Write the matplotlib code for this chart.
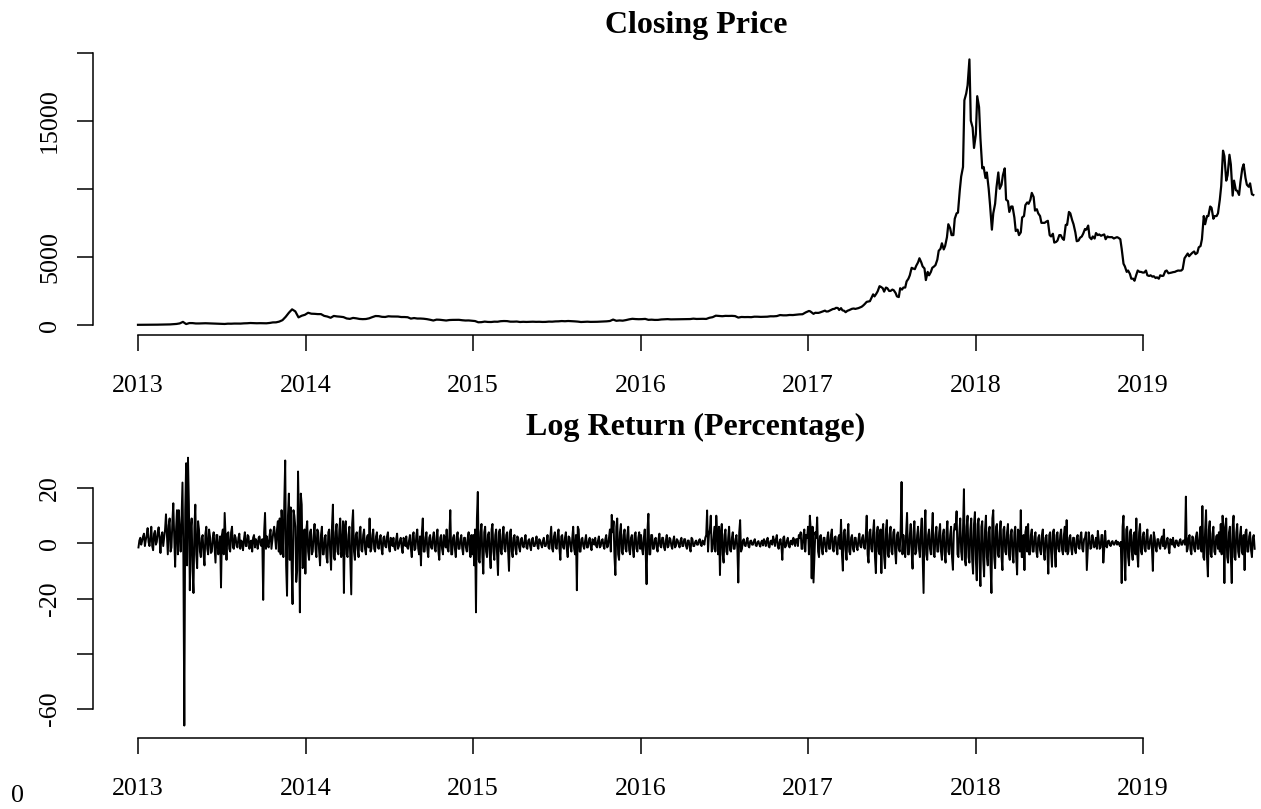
import numpy as np
import matplotlib
matplotlib.use("Agg")
import matplotlib.pyplot as plt

plt.rcParams['font.family'] = ['Liberation Serif', 'DejaVu Serif']

# ---------------- data: weekly closing price (USD), from 2013-01-01, every 7 days ----------------
price_2013 = [13.3, 13.9, 14.2, 17.0, 19.6, 20.6, 24.8, 29.5, 31.0, 40.0, 44.0, 59.0, 78.0, 118, 230, 68,
              142, 139, 113, 113, 122, 129, 121, 108, 108, 103, 88, 76, 98, 95, 106, 107, 104, 122, 129,
              146, 136, 128, 134, 126, 125, 150, 190, 195, 250, 355, 600, 900, 1150, 1000, 560, 680, 750]
price_2014 = [900, 830, 820, 800, 800, 670, 620, 530, 665, 630, 610, 580, 480, 450, 520, 490, 445, 430,
              440, 490, 580, 660, 650, 600, 590, 640, 625, 620, 620, 585, 585, 570, 470, 510, 475, 475,
              460, 430, 385, 330, 395, 385, 355, 330, 365, 375, 375, 380, 350, 330, 335, 315]
price_2015 = [290, 200, 210, 250, 225, 220, 245, 240, 280, 292, 285, 245, 245, 255, 220, 235, 225, 235,
              242, 232, 237, 225, 229, 250, 244, 264, 270, 290, 277, 294, 285, 268, 250, 220, 228, 243,
              229, 230, 236, 246, 250, 270, 294, 400, 310, 335, 318, 360, 415, 455, 435, 425]
price_2016 = [432, 448, 380, 392, 373, 376, 407, 420, 432, 412, 416, 412, 416, 422, 425, 436, 466, 444,
              450, 454, 445, 530, 575, 685, 665, 645, 670, 665, 672, 655, 545, 590, 580, 585, 575, 610,
              608, 596, 605, 610, 640, 637, 655, 730, 710, 710, 737, 730, 758, 780, 790, 925]
price_2017 = [1030, 900, 900, 890, 970, 1055, 1000, 1120, 1190, 1250, 1240, 1040, 1045, 1140, 1210, 1210,
              1300, 1450, 1700, 1750, 2250, 2300, 2850, 2700, 2750, 2500, 2600, 2350, 2050, 2600, 2750,
              3400, 4200, 4100, 4600, 4600, 4150, 3900, 3900, 4300, 4800, 5600, 5550, 6450, 7100, 6600,
              8200, 9900, 11600, 17000, 19500, 14500]
price_2018 = [14000, 16000, 11500, 10800, 10000, 7000, 8900, 11200, 10300, 11500, 9100, 8700, 7900, 7000,
              6800, 8000, 9000, 9200, 9400, 8500, 8000, 7500, 7600, 6600, 6700, 6100, 6600, 6350, 7350,
              8300, 7700, 6800, 6200, 6500, 7050, 7300, 6300, 6350, 6600, 6550, 6650, 6500, 6450, 6350,
              6450, 6300, 4500, 3900, 3750, 3400, 3700, 3900]
price_2019 = [3850, 4000, 3600, 3550, 3450, 3400, 3600, 3950, 3800, 3850, 3900, 4000, 4000, 4900, 5250,
              5200, 5400, 5300, 5800, 8000, 8000, 8700, 7800, 8000, 9200, 12800, 10600, 12500, 9500,
              9900, 9550, 11500, 10800, 10150, 9600]
# mid-week readings (3 days after each weekly reading) for the volatile 2017-2019 stretch
price_mid_2017 = [1000, 820, 890, 920, 1010, 990, 1050, 1170, 1260, 1100, 1080, 940, 1080, 1190, 1180, 1240,
                  1340, 1550, 1720, 1970, 2100, 2480, 2800, 2450, 2700, 2500, 2550, 2100, 2700, 2750, 3200,
                  3650, 4150, 4350, 4900, 4300, 3300, 3650, 4200, 4400, 5450, 6000, 5800, 7400, 6600, 7800,
                  8250, 10900, 16500, 17600, 15000, 13000]
price_mid_2018 = [16800, 13700, 11600, 11200, 8800, 8200, 10100, 10000, 11000, 9200, 8300, 8700, 6900, 6600,
                  7900, 8800, 8900, 9700, 8400, 8200, 7500, 7500, 7650, 6500, 6050, 6200, 6600, 6250, 7350,
                  8200, 7400, 6150, 6400, 6700, 7000, 6450, 6500, 6750, 6650, 6600, 6300, 6450, 6450, 6400,
                  6400, 5600, 4300, 4000, 3400, 3250, 4000, 3900]
price_mid_2019 = [3850, 3650, 3650, 3580, 3500, 3650, 3620, 4000, 3820, 3880, 3950, 3990, 4100, 5050, 5050,
                  5300, 5200, 5700, 6300, 7400, 8000, 8600, 8000, 8200, 10200, 12400, 11000, 11800, 10600,
                  9850, 10500, 11800, 10300, 10400, 9550]

# ---------------- data: daily log return (%), readings every 4 days from 2013-01-02 ----------------
ret_2013 = [-1.5, 2.0, 0.8, 3.5, 1.2, 5.5, -1.0,
            6.0, -2.5, 4.5, 0.5, 5.8, -3.5, 4.0, 2.0,
            10.5, -4.0, 9.0, -1.5, 14.5, -8.5, 12.0,
            12.0, -3.0, 22.0, -66.0, 29.0, 31.0, -17.0, 9.0, -18.0, 14.0, -9.0, 5.0,
            -5.0, 3.0, -8.0, 6.0, -4.0, 2.5, -3.0, 4.0, -7.0, 3.0, -2.0,
            -16.0, 5.0, 11.0, -6.0, 4.0, -3.0, 6.0, -2.0,
            2.0, -1.5, 3.5, 1.0, -2.5, 4.0, -1.0, 2.5, 0.5, -3.0, 3.0, 1.5, -2.0, 2.5, -1.0,
            -20.5, 11.0,
            2.5, -1.5, 5.0, 1.0, 6.0, -2.0, 8.0,
            9.0, 12.0, -5.0, 30.0, -19.0, 18.0, 13.0, -22.0, 10.0, -14.0, 26.0, -25.0, 14.0, -8.0]
ret_2014 = [-11.0, 8.0, -6.0, 5.0, -3.0, 7.0, -5.0, 4.0, -8.0, 6.0, -4.0, 3.0, -7.0, 5.0, -9.6, 14.0,
            -6.0, 7.0, -4.0, 9.0, -3.0, -18.0, 8.0, -5.0, 6.0, -18.5,
            12.0, -6.0, 4.0, -5.0, 6.0, -3.0, 5.0, -4.0, 3.0, 9.0, -2.0, 5.0, -3.0, 4.0,
            -2.0, 3.0, -4.0, 2.5, -1.5, 4.0, -3.0, 1.5, 2.0, -2.5, 3.5, -1.0, 2.0, -3.5, 1.0, 2.5, -2.0,
            3.0, -5.0, 4.0, -2.0, 5.0, -4.0, -8.0, 9.0, -3.0, 4.0, -5.0, 3.0, -2.0,
            4.0, -3.0, 5.0, -6.0, 3.0, -4.0, 2.0, 5.0, -3.0, 12.0, -4.0, 3.0, -5.0, 4.0, -2.0, 3.0,
            -4.0, 2.0, -3.0, 4.0, -5.0]
ret_2015 = [-4.0, -8.0, -25.0, 18.6, -7.0, 7.0, -11.0, 6.0, -5.0, 4.0, -9.0, 7.0, -6.0, 5.0, -11.5,
            5.0, -4.0, 6.0, -3.0, 4.0, -10.0, 5.0, -5.0, 3.0, -4.0, 2.0,
            -3.0, 2.0, -1.5, 3.0, -2.0, 1.5, -2.5, 2.0, -1.0, 2.5, -2.0, 1.0, -1.5, 2.0, -1.0,
            3.0, -2.0, 6.0, -3.0, 4.0, -2.0, 5.0, -6.0, 3.0, -2.0, 4.0, -5.0, 2.0, -3.0, 6.0, -4.0,
            -17.0, 5.0,
            -3.0, 2.0, -2.0, 3.0, -1.5, 2.0, -2.5, 1.0, 2.0, -1.5, 2.5, -1.0, 1.5, -2.0, 3.0, -1.0,
            5.0, 10.3, 8.0, -11.5, 9.0, -6.0, 7.0, -4.0, 5.0, -3.0, 6.0, -4.0, 3.0, -5.0, 4.0,
            -3.0, 4.0]
ret_2016 = [3.0, -4.0, 5.0, -14.8, 10.7, -4.0, 3.0, -2.0,
            2.0, -3.0, 3.5, -1.5, 2.0, -2.5, 3.0, -1.0, 1.5, -2.0, 2.5, -1.0, 1.0, -1.5, 2.0, -1.0,
            1.5, -2.0, 1.0, -3.0, 1.5,
            -1.0, 1.0, -0.5, 1.5, -1.0, 0.5, 2.0, 11.9, 3.0, 10.0, -2.0,
            6.0, 10.0, -4.0, -11.5, 7.0, -7.0, 5.0, -4.0, 6.0, -3.0, 4.0,
            -2.0, 3.0, -14.2, 8.4,
            -2.0, 1.5, -1.0, 2.0, -1.5, 1.0, -0.5, 1.5, -1.0, 0.8, -1.2, 1.0, 1.5, -1.0, 2.0, -1.5,
            1.0, 2.5, -1.0, 3.0, -2.0, 1.5, -6.0, 2.5, -1.0, 2.0, -1.5, 1.0, 2.0, -1.0, 1.5, 3.0,
            4.0, -2.0, 5.0, 3.0]
ret_2017 = [6.0, 10.0, -12.7, -14.2, 4.0, 9.4, -5.0, 3.0, -4.0, 2.0, -3.0, 4.0, -2.0, 5.0, -3.0, 2.5,
            -4.0, 3.0, 8.5, -9.9,
            5.0, -6.0, 7.0, -4.0, 3.0, -3.0, 2.0, -2.5, 3.5, -1.5, 3.0, -2.0, 10.0, -7.0, 5.0, -3.0,
            8.4, -10.8, 6.0, -4.0,
            -10.8, 7.0, -9.0, 8.4, -5.0, 6.0, -4.0, 5.0, -7.3, 4.0, -3.0,
            22.2,
            3.0, -5.0, 11.0, -4.0, 7.0, -9.2, 8.0, -3.0, 6.0, -5.0, 9.0,
            -18.0, 12.0,
            -6.0, 5.0, -4.0, 11.0, -5.0, 6.0, -3.0, 7.0, -6.0, 5.0, -7.0, 8.0, -4.0, 6.0, -9.6, 7.0,
            11.6, -5.0, 9.0, -6.0,
            19.6, -8.0, 10.0, -7.0, 9.0, -11.0]
ret_2018 = [11.3, -13.4, 9.0, -15.5, 8.0, -12.0, 10.0, -8.0, 6.0, -18.0, 12.0, -9.0,
            7.0, -5.0, 8.0, -9.7, 6.0, -4.0, 7.0, -6.0, 5.0, -7.0, 6.0, -11.3, 4.0, 12.0,
            -5.0, -9.7, 6.0, 7.0, -4.0, 5.0, -3.0, 4.0, -5.0, 3.0, -4.0, 5.0, -6.0, 3.0, -11.0,
            4.0, -8.5, 5.0, -8.5, 4.0, -3.0, 5.0, -4.0, 6.0, 8.4, -3.0,
            3.0, -4.0, 2.0, -3.6, 3.0, -2.0, 4.0, -3.0, 2.0, -9.7, 4.0, -2.0, 3.0, -1.5, 2.0, 4.5,
            -2.0, 3.0, -7.0, 4.5, -1.5, 1.0, -1.0, 0.8, -0.5, 1.0,
            0.5, -1.0,
            -14.4, 10.0, -13.4, 6.0, -8.0, 5.0, -6.0, 4.0, 9.0, -8.5, 7.0, -4.0]
ret_2019 = [4.0, -3.0, 5.0, -2.0, 3.0, -10.0, 2.0, -3.0, 1.5, -2.0, 2.5, 5.0, -1.5, 2.0, -3.6, 1.0,
            2.0, -1.5, 1.0, -1.0, 1.5, -0.5,
            1.0, 16.9,
            -2.0, 3.0, -4.0, 2.0, -3.0, 4.0, -2.0, 6.0, 13.5, -6.0, 12.0, -12.0, 8.0, -5.0, 6.0, -4.0,
            3.0,
            4.0, 7.0, 10.0, -14.4, 9.0, -7.0, 6.0, -14.4, 10.0, -6.0, 7.0, -5.0, 6.0, -4.0, -9.7, 5.0,
            -3.0, 4.0, -5.0, 3.0]
# in-between readings (2 days after each reading above)
ret_mid_2013 = [1.0, -0.5, 2.5, -1.0, 3.0, 0.5, 2.0,
                -1.0, 3.5, -0.5, 4.0, 1.5, 2.5, -1.0, 5.0,
                3.0, 6.5, -3.0, 8.0, 2.0, 5.0, -4.0,
                4.0, 9.0, -6.0, 12.0, -8.0, 14.0, 5.0, -10.0, 6.0, -4.0, 8.0, -3.0,
                2.0, -4.0, 3.5, -2.0, 5.0, -3.5, 2.0, -1.5, 3.0, -4.0, 2.5,
                3.0, -4.0, 2.0, 3.5, -2.0, 4.0, -1.5, 3.0,
                -1.0, 2.0, -2.0, 0.5, 1.5, -1.0, 3.0, -2.0, 1.0, 2.0, -1.5, 0.5, 2.0, -0.5, 1.5,
                4.0, -2.0,
                -1.0, 3.0, -2.0, 4.0, 2.0, 5.0, -3.0,
                -4.0, 6.0, 15.0, -8.0, 10.0, -6.0, -9.0, 12.0, 6.0, -10.0, 8.0, 18.0, -9.0, 5.0]
ret_mid_2014 = [5.0, -3.0, 4.0, -4.0, 3.0, -2.0, 5.0, -3.0, 3.0, -4.0, 2.0, -5.0, 4.0, -3.0, 6.0, -5.0,
                4.0, -3.0, 5.0, -5.0, 8.0, 6.0, -4.0, 3.0, -6.0, 7.0,
                -3.0, 3.0, -2.0, 4.0, -2.5, 3.0, -2.0, 2.0, -1.5, -3.0, 3.0, -2.0, 2.5, -1.5,
                1.5, -2.0, 2.0, -1.0, 2.5, -1.5, 2.0, -1.0, -1.5, 1.5, -2.0, 1.0, -1.5, 2.0, -1.0, -1.5, 1.0,
                -2.0, 3.0, -2.5, 3.0, -2.0, 2.5, 4.0, -3.0, 2.0, -2.5, 2.0, -1.5, 2.0,
                -2.0, 2.5, -3.0, 2.0, -2.0, 3.0, -1.5, -2.0, 3.0, -4.0, 2.0, -2.0, 2.5, -2.0, 1.5, -2.0,
                2.0, -1.5, 2.0, -2.5, 3.0]
ret_mid_2015 = [3.0, 5.0, 9.0, -6.0, 4.0, -5.0, 4.0, -3.0, 3.0, -4.0, 5.0, -3.0, 3.0, -4.0, 4.0,
                -3.0, 3.0, -2.0, 3.0, -2.5, 4.0, -3.0, 2.0, -2.0, 2.5, -1.5,
                1.5, -1.0, 1.0, -1.5, 1.0, -1.0, 1.5, -1.0, 0.5, -1.0, 1.5, -0.5, 1.0, -1.0, 0.5,
                -1.5, 2.0, -2.0, 2.5, -1.5, 3.0, -2.0, 2.5, -1.5, 2.0, -2.0, 2.5, -1.0, 2.0, -2.0, 3.0,
                6.0, -3.0,
                1.5, -1.0, 1.0, -1.5, 1.0, -1.0, 1.5, -0.5, -1.0, 1.0, -1.5, 1.0, -1.0, 1.5, -1.5, 2.0,
                -3.0, 4.0, -5.0, 6.0, -4.0, 4.0, -3.0, 3.0, -2.0, 3.0, -2.5, 2.0, -2.0, 3.0, -2.0,
                2.0, -2.0]
ret_mid_2016 = [-2.0, 2.0, -3.0, 5.0, -4.0, 3.0, -2.0, 1.5,
                -1.5, 1.5, -1.0, 2.0, -1.5, 1.0, -1.5, 2.0, -1.0, 1.0, -1.5, 1.5, -0.5, 1.0, -1.0, 1.5,
                -1.0, 1.0, -1.5, 2.0, -1.0,
                0.5, -0.5, 1.0, -0.5, 1.0, -0.5, 3.0, -3.0, 5.0, -3.0, 2.0,
                -3.0, 4.0, 6.0, 4.0, -4.0, 3.0, -3.0, 2.0, -2.5, 2.0, -2.0,
                1.5, -2.0, 4.0, -3.0,
                1.0, -0.8, 0.8, -1.0, 0.8, -0.5, 0.8, -0.8, 0.5, -0.5, 0.5, -0.8, 0.5, 1.0, -1.0, 0.8,
                -0.5, 1.0, 1.5, -1.0, 0.5, -1.0, 2.0, -1.5, 1.0, -1.0, 0.8, -0.5, 1.0, 1.5, -1.0, 2.0,
                -2.0, 3.0, -3.0, 2.0]
ret_mid_2017 = [-4.0, 5.0, 6.0, -5.0, 2.0, -3.0, 2.5, -2.0, 2.0, -1.5, 2.0, -2.0, 3.0, -2.0, 2.0, -1.5,
                2.0, -2.0, -4.0, 4.0,
                -2.0, 3.0, -3.0, 2.0, -2.0, 2.0, -1.5, 1.5, -1.0, 2.0, -1.5, 3.0, -4.0, 4.0, -2.0, 4.0,
                -5.0, 4.0, -3.0, 5.0,
                4.0, -5.0, 5.0, -4.0, 3.0, -3.0, 4.0, -3.0, 3.0, -2.0, 5.0,
                -4.0,
                -2.0, 4.0, -4.0, 3.0, -3.0, 4.0, -4.0, 3.0, -2.0, 4.0, -5.0,
                5.0, -4.0,
                3.0, -2.0, 4.0, -4.0, 3.0, -3.0, 4.0, -3.0, 3.0, -4.0, 4.0, -3.0, 3.0, -5.0, 4.0, 5.0,
                -4.0, 4.0, -3.0, 5.0,
                -6.0, 6.0, -5.0, 5.0, -6.0, 7.0]
ret_mid_2018 = [-6.0, 7.0, -7.0, 6.0, -6.0, 5.0, -5.0, 4.0, -8.0, 9.0, -5.0, 6.0,
                -4.0, 4.0, -5.0, 5.0, -3.0, 4.0, -4.0, 3.0, -4.0, 4.0, -5.0, 5.0, -3.0, -5.0,
                3.0, 4.0, -3.0, -4.0, 3.0, -3.0, 2.5, -3.0, 2.0, -2.5, 3.0, -3.0, 2.0, -3.0, 3.0,
                -3.0, 4.0, -3.0, 3.0, -2.0, 3.0, -2.5, 3.0, -3.0, -4.0, 2.0,
                -2.0, 2.0, -2.5, 2.0, -1.5, 2.5, -2.0, 1.5, 4.0, -3.0, 2.0, -1.5, 1.5, -1.0, -2.0, 1.5,
                -1.5, 3.0, -2.0, -1.0, 0.8, -0.5, 0.5, -0.4, 0.5, -0.5,
                -0.3, 0.5,
                6.0, -6.0, 5.0, -5.0, 4.0, -3.0, 3.0, -4.0, -4.0, 4.0, -3.0, 2.5]
ret_mid_2019 = [-2.0, 2.5, -2.0, 1.5, -2.0, 4.0, -1.5, 1.5, -1.0, 1.5, -1.0, -2.0, 1.0, -1.5, 1.5, -0.5,
                -1.0, 1.0, -0.5, 0.8, -0.5, 1.0,
                -0.5, -3.0,
                2.0, -2.5, 2.5, -2.0, 2.5, -2.0, 3.0, -3.0, -5.0, 5.0, -5.0, 5.0, -4.0, 3.5, -3.0, 2.5,
                -2.0,
                -3.0, -4.0, 5.0, 6.0, -5.0, 4.0, -5.0, 6.0, -5.0, 4.0, -3.0, 3.0, -3.0, 3.0, 4.0, -3.0,
                2.5, -2.5, 2.0, -2.0]

year_ticks = [2013, 2014, 2015, 2016, 2017, 2018, 2019]
year_labels = ["2013", "2014", "2015", "2016", "2017", "2018", "2019"]
price_ticks = [0, 5000, 10000, 15000, 20000]
price_labels = ["0", "5000", "", "15000", ""]
ret_ticks = [-60, -40, -20, 0, 20]
ret_labels = ["-60", "", "-20", "0", "20"]

# ---------------- assemble series ----------------
weekly = np.array(price_2013 + price_2014 + price_2015 + price_2016 + price_2017 + price_2018 + price_2019,
                  dtype=float)
weekly_day = np.arange(len(weekly)) * 7
mid = np.array(price_mid_2017 + price_mid_2018 + price_mid_2019, dtype=float)
first_2017 = len(price_2013) + len(price_2014) + len(price_2015) + len(price_2016)
mid_day = (first_2017 + np.arange(len(mid))) * 7 + 3
p_day = np.concatenate([weekly_day, mid_day])
p_val = np.concatenate([weekly, mid])
order = np.argsort(p_day)
price_time = 2013 + p_day[order] / 365.25
closing_price = p_val[order]

ret_main = np.array(ret_2013 + ret_2014 + ret_2015 + ret_2016 + ret_2017 + ret_2018 + ret_2019)
ret_mid = np.array(ret_mid_2013 + ret_mid_2014 + ret_mid_2015 + ret_mid_2016 + ret_mid_2017 +
                   ret_mid_2018 + ret_mid_2019)
log_return = np.empty(len(ret_main) + len(ret_mid))
log_return[0::2] = ret_main
log_return[1::2] = ret_mid
ret_time = 2013 + (1 + 2 * np.arange(len(log_return))) / 365.25

# ---------------- figure ----------------
W, H = 1261, 809
fig = plt.figure(figsize=(W / 100, H / 100), dpi=100)


def px2year(px):
    return 2013 + (px - 138) / 167.5


xlim = (px2year(93), px2year(1261))

ax1 = fig.add_axes([93 / W, 1 - 335 / H, (1261 - 93) / W, (335 - 48.6) / H])
ax1.plot(price_time, closing_price, color="black", lw=1.6)
ax1.set_xlim(xlim)
ax1.set_ylim(-734, 20294)

ax2 = fig.add_axes([93 / W, 1 - 738 / H, (1261 - 93) / W, (738 - 448.3) / H])
ax2.plot(ret_time, log_return, color="black", lw=1.4)
ax2.set_xlim(xlim)
ax2.set_ylim(-70.5, 34.4)


def style(ax, yt, yl):
    ax.set_facecolor("none")
    for s in ["top", "right"]:
        ax.spines[s].set_visible(False)
    for s in ["left", "bottom"]:
        ax.spines[s].set_linewidth(1.1)
    ax.spines["left"].set_bounds(yt[0], yt[-1])
    ax.spines["bottom"].set_bounds(year_ticks[0], year_ticks[-1])
    ax.set_xticks(year_ticks)
    ax.set_xticklabels(year_labels)
    ax.set_yticks(yt)
    ax.set_yticklabels(yl, rotation=90, va="center")
    ax.tick_params(axis="both", length=11.5, width=1.1, labelsize=18.7, colors="black")
    ax.tick_params(axis="x", pad=17.0)
    ax.tick_params(axis="y", pad=11.5)


style(ax1, price_ticks, price_labels)
style(ax2, ret_ticks, ret_labels)

fig.text(696 / W, 1 - 33 / H, "Closing Price", ha="center", va="baseline",
         fontsize=23, fontweight="bold")
fig.text(696 / W, 1 - 435 / H, "Log Return (Percentage)", ha="center", va="baseline",
         fontsize=23, fontweight="bold")
fig.text(17 / W, 1 - 802 / H, "0", ha="center", va="baseline", fontsize=18.7)

fig.savefig("out.png", dpi=100, facecolor="white")
